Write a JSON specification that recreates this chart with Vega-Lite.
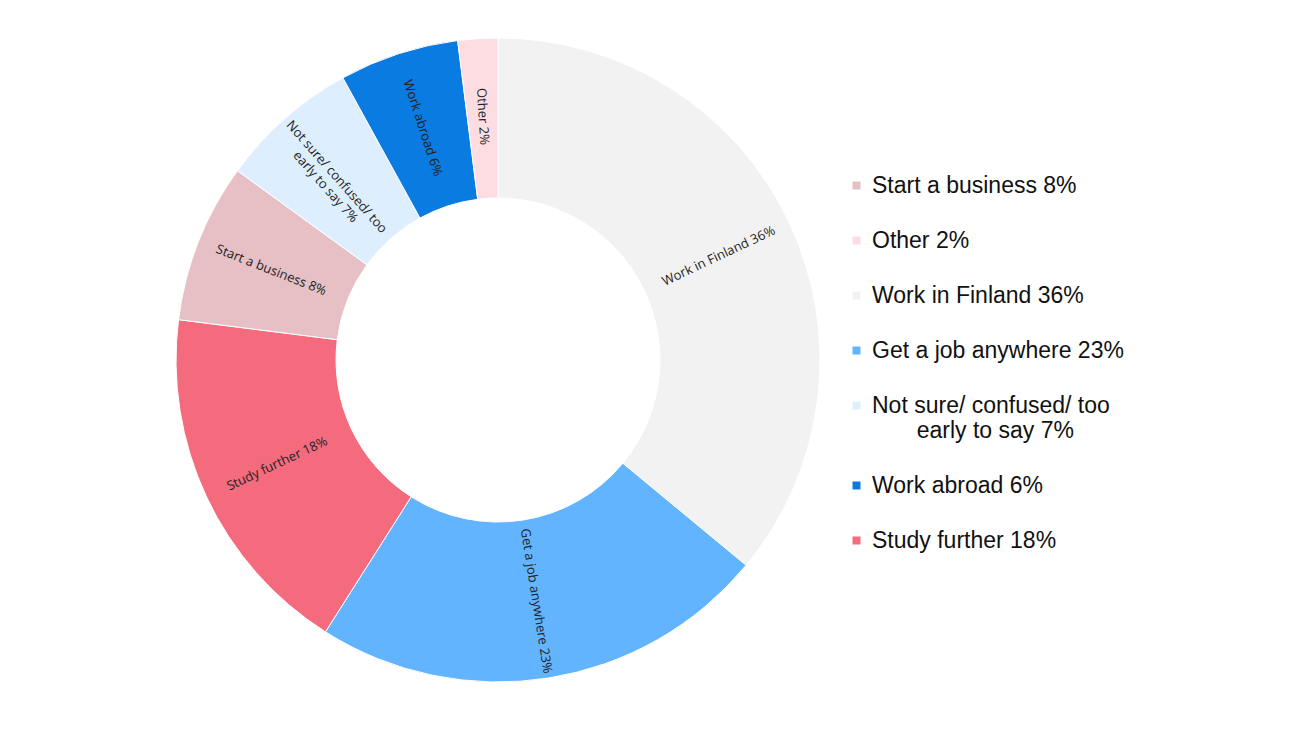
{
  "$schema": "https://vega.github.io/schema/vega-lite/v6.json",
  "width": 996,
  "height": 720,
  "padding": 0,
  "background": "#ffffff",
  "config": {"view": {"stroke": null}},
  "data": {
    "values": [
      {"category": "Work in Finland 36%", "value": 36},
      {"category": "Get a job anywhere 23%", "value": 23},
      {"category": "Study further 18%", "value": 18},
      {"category": "Start a business 8%", "value": 8},
      {"category": "Not sure/ confused/ too\nearly to say 7%", "value": 7},
      {"category": "Work abroad 6%", "value": 6},
      {"category": "Other 2%", "value": 2}
    ]
  },
  "transform": [
    {"window": [{"op": "row_number", "as": "idx"}]},
    {"window": [{"op": "sum", "field": "value", "as": "cum"}], "sort": [{"field": "idx"}], "frame": [null, 0]},
    {"calculate": "(datum.cum - datum.value / 2) * 3.6 - 90", "as": "rawAngle"},
    {"calculate": "datum.rawAngle > 90 ? datum.rawAngle - 180 : datum.rawAngle", "as": "labelAngle"}
  ],
  "encoding": {
    "theta": {"field": "value", "type": "quantitative", "stack": true},
    "order": {"field": "idx", "type": "quantitative"}
  },
  "layer": [
    {
      "mark": {"type": "arc", "outerRadius": 322, "innerRadius": 162, "stroke": "#ffffff", "strokeWidth": 1},
      "encoding": {
        "color": {
          "field": "category",
          "type": "nominal",
          "scale": {
            "domain": ["Start a business 8%", "Other 2%", "Work in Finland 36%", "Get a job anywhere 23%", "Not sure/ confused/ too\nearly to say 7%", "Work abroad 6%", "Study further 18%"],
            "range": ["#e6c0c4", "#fddde2", "#f2f2f2", "#62b4fe", "#ddeeff", "#0a7be0", "#f46b7d"]
          },
          "legend": {
            "title": null,
            "orient": "none",
            "legendX": 845,
            "legendY": 174,
            "symbolType": "square",
            "symbolSize": 64,
            "symbolStrokeWidth": 0,
            "labelFont": "Liberation Sans",
            "labelFontSize": 23,
            "labelColor": "#111111",
            "labelOffset": 4,
            "labelLimit": 400,
            "rowPadding": 31,
            "labelExpr": "indexof(datum.label, '\\n') > 0 ? [split(datum.label, '\\n')[0], '\u200b\u00a0\u00a0\u00a0\u00a0\u00a0\u00a0\u00a0' + split(datum.label, '\\n')[1]] : datum.label"
          }
        }
      }
    },
    {
      "mark": {"type": "text", "radius": 244, "font": "Open Sans", "fontSize": 13, "color": "#222222", "lineBreak": "\n", "align": "center", "baseline": "middle"},
      "encoding": {
        "text": {"field": "category", "type": "nominal"},
        "angle": {"field": "labelAngle", "type": "quantitative", "scale": null}
      }
    }
  ]
}
